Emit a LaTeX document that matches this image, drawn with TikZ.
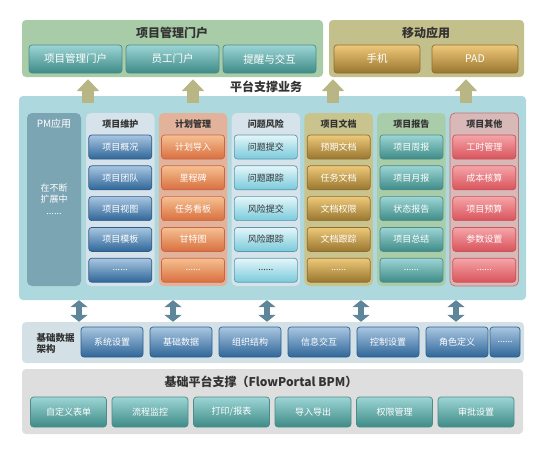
\documentclass[tikz,border=0pt]{standalone}
\usepackage{fontspec}
\setmainfont{Noto Sans CJK SC}
\usetikzlibrary{arrows.meta, positioning, calc}

\definecolor{pmpanel}{HTML}{A8CCA8}
\definecolor{mobpanel}{HTML}{C4C08B}
\definecolor{mainpanel}{HTML}{ADD8DE}
\definecolor{pmcol}{HTML}{7CA5B4}
\definecolor{bluecol}{HTML}{D6E3EA}
\definecolor{plancol}{HTML}{E3B29B}
\definecolor{doccol}{HTML}{C9C48E}
\definecolor{repcol}{HTML}{AACDA9}
\definecolor{othcol}{HTML}{D8B9B8}
\definecolor{othline}{HTML}{C77373}
\definecolor{basepanel}{HTML}{D3E1E7}
\definecolor{botpanel}{HTML}{DEDEDE}
\definecolor{uparrow}{HTML}{B9B685}
\definecolor{dblarrow}{HTML}{5E8599}
\definecolor{titletext}{HTML}{333333}
\definecolor{tealT}{HTML}{9CD5D5}
\definecolor{tealB}{HTML}{3E8B87}
\definecolor{tealD}{HTML}{4D8B89}
\definecolor{goldT}{HTML}{EEC97A}
\definecolor{goldB}{HTML}{99762F}
\definecolor{goldD}{HTML}{8C6E35}
\definecolor{blueT}{HTML}{A8C6E1}
\definecolor{blueB}{HTML}{2F6698}
\definecolor{blueD}{HTML}{2E5D8D}
\definecolor{orngT}{HTML}{F6C091}
\definecolor{orngB}{HTML}{D86F3F}
\definecolor{orngD}{HTML}{C9654B}
\definecolor{cyanT}{HTML}{E4F6F9}
\definecolor{cyanB}{HTML}{7ACADB}
\definecolor{cyanD}{HTML}{5B98AD}
\definecolor{redT}{HTML}{F5A5A9}
\definecolor{redB}{HTML}{D9535B}
\definecolor{redD}{HTML}{C4565C}

\newcommand\moredots{......}

\tikzset{
    panel/.style={rounded corners=4pt, inner sep=0pt},
    title/.style={text=titletext, font=\bfseries\fontsize{12}{13}\selectfont},
    coltitle/.style={text=titletext, font=\bfseries\fontsize{9}{10}\selectfont},
    col/.style={rounded corners=5pt, inner sep=0pt, minimum width=68.5pt, minimum height=173pt},
    colblue/.style={col, fill=bluecol},
    colplan/.style={col, fill=plancol},
    coldoc/.style={col, fill=doccol},
    colrep/.style={col, fill=repcol},
    colother/.style={col, fill=othcol, draw=othline, line width=0.8pt},
    box/.style={rounded corners=3pt, inner sep=0pt, line width=0.7pt, text=white,
        minimum width=63pt, minimum height=24pt, font=\fontsize{9}{10}\selectfont},
    tealbox/.style={box, top color=tealT, bottom color=tealB, draw=tealD},
    goldbox/.style={box, top color=goldT, bottom color=goldB, draw=goldD},
    bluebox/.style={box, top color=blueT, bottom color=blueB, draw=blueD},
    orngbox/.style={box, top color=orngT, bottom color=orngB, draw=orngD},
    cyanbox/.style={box, top color=cyanT, bottom color=cyanB, draw=cyanD, text=titletext},
    redbox/.style={box, top color=redT, bottom color=redB, draw=redD},
    uparr/.style={draw=uparrow, line width=12pt, -{Triangle[width=22pt, length=12pt]}},
    dblarr/.style={draw=dblarrow, line width=6pt,
        {Triangle[width=17pt, length=7pt]}-{Triangle[width=17pt, length=7pt]}},
}

\begin{document}
\begin{tikzpicture}[x=1pt, y=-1pt]
\useasboundingbox (0,0) rectangle (556,448);

\node[panel, fill=pmpanel, minimum width=301pt, minimum height=57pt] (pm) at (172.5,48.5) {};
\node[title] at (172,33) {项目管理门户};
\foreach \s [count=\k] in {项目管理门户,员工门户,提醒与交互}
    \node[tealbox, minimum width=93pt, minimum height=28pt, font=\fontsize{10.5}{11}\selectfont]
        (pm\k) at (75.5+97*\k-97,59) {\s};

\node[panel, fill=mobpanel, minimum width=195pt, minimum height=57pt] (mob) at (426.5,48.5) {};
\node[title] at (426,33) {移动应用};
\node[goldbox, minimum width=86pt, minimum height=28pt, font=\fontsize{10.5}{11}\selectfont] (phone) at (377,59) {手机};
\node[goldbox, minimum width=86pt, minimum height=28pt, font=\fontsize{10.5}{11}\selectfont] (pad) at (475,59) {PAD};

\node[title] (biz) at (266,87) {平台支撑业务};
\node[panel, fill=mainpanel, minimum width=507pt, minimum height=204pt] (main) at (272.5,198) {};

\foreach \x in {88,193,333,466}
    \draw[uparr] ([yshift=-7pt]main.north -| \x,0) -- ([yshift=-2pt]pm.south -| \x,0);

\node[col, fill=pmcol, minimum width=54pt] (pmapp) at (54,199.5) {};
\node[text=white, font=\fontsize{10}{11}\selectfont] at (54,124) {PM应用};
\node[text=white, align=center, font=\fontsize{9}{11.5}\selectfont] at (54,199) {在不断\\扩展中\\\moredots};

\foreach \t/\cs/\bs/\items [count=\i] in {
    项目维护/colblue/bluebox/{项目概况,项目团队,项目视图,项目模板,\moredots},
    计划管理/colplan/orngbox/{计划导入,里程碑,任务看板,甘特图,\moredots},
    问题风险/colblue/cyanbox/{问题提交,问题跟踪,风险提交,风险跟踪,\moredots},
    项目文档/coldoc/goldbox/{预期文档,任务文档,文档权限,文档跟踪,\moredots},
    项目报告/colrep/tealbox/{项目周报,项目月报,状态报告,项目总结,\moredots},
    项目其他/colother/redbox/{工时管理,成本核算,项目预算,参数设置,\moredots}} {
    \node[\cs] (c\i) at (120.25+72.8*\i-72.8,199.5) {};
    \node[coltitle] at (c\i.center |- 0,124) {\t};
    \foreach \s [count=\j] in \items
        \node[\bs] (c\i-\j) at (c\i.center |- 0,147+30.8*\j-30.8) {\s};
}

\node[panel, fill=basepanel, minimum width=502pt, minimum height=41pt] (base) at (273,342.5) {};
\node[coltitle, align=left, anchor=west, font=\bfseries\fontsize{9.5}{11}\selectfont] at (33,343) {基础数据\\架构};
\foreach \s [count=\k] in {系统设置,基础数据,组织结构,信息交互,控制设置,角色定义}
    \node[bluebox, minimum width=62pt, minimum height=30pt] (b\k) at (112+69*\k-69,342) {\s};
\node[bluebox, minimum width=30pt, minimum height=30pt] (b7) at (505,342) {\moredots};

\foreach \x in {79,173,267,361,456}
    \draw[dblarr] (main.south -| \x,0) -- (base.north -| \x,0);

\node[panel, fill=botpanel, minimum width=501pt, minimum height=65pt] (bpm) at (272.5,401.5) {};
\node[title] at (261,382) {基础平台支撑（FlowPortal BPM）};
\foreach \s [count=\k] in {自定义表单,流程监控,{打印/报表},导入导出,权限管理,审批设置}
    \node[tealbox, minimum width=76pt, minimum height=30pt] (f\k) at (68.5+81.5*\k-81.5,412) {\s};
\end{tikzpicture}
\end{document}
